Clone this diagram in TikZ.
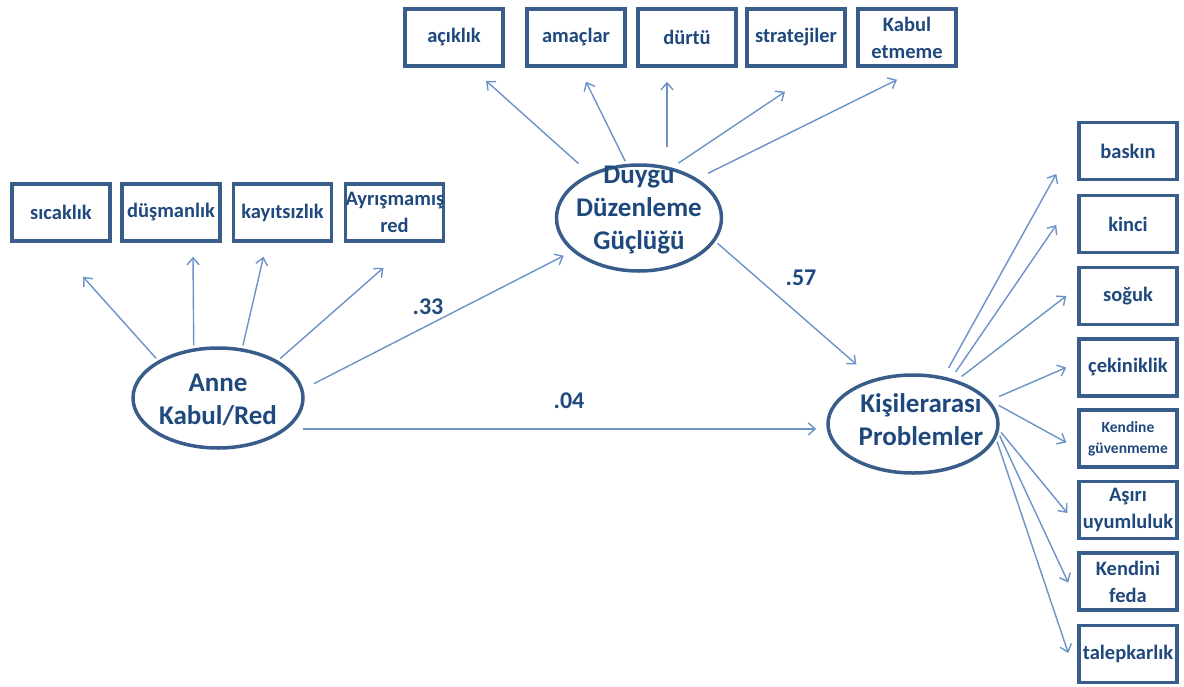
\documentclass[tikz,border=0pt]{standalone}
\usepackage{fontspec}
\setmainfont{Carlito}
\usetikzlibrary{arrows.meta}
\usetikzlibrary{shapes.geometric}

\definecolor{txtblue}{RGB}{31,73,125}
\definecolor{boxblue}{RGB}{56,93,138}
\definecolor{arrblue}{RGB}{108,146,200}

\tikzset{
  obs/.style={draw=boxblue, line width=3.5pt, rectangle, minimum width=98pt,
    minimum height=57pt, text width=98pt, inner sep=0pt, align=center,
    text=txtblue, font=\bfseries\fontsize{20.5}{27}\selectfont},
  latent/.style={draw=boxblue, line width=3.5pt, ellipse, inner sep=0pt},
  lattext/.style={text=txtblue, align=center, font=\bfseries\fontsize{27}{33}\selectfont},
  arr/.style={draw=arrblue, line width=1.4pt, shorten <=3pt,
    -{Straight Barb[length=7pt,width=12pt]}},
  coef/.style={text=txtblue, font=\bfseries\fontsize{24}{28}\selectfont}
}

\begin{document}
\begin{tikzpicture}[x=1pt,y=-1pt]
      \useasboundingbox (0,0) rectangle (1184,686);

      % latent variables
      \node[latent, minimum width=170pt, minimum height=100pt] (anne) at (218,398) {};
      \node[latent, minimum width=165pt, minimum height=106pt] (duy) at (639,218) {};
      \node[latent, minimum width=170pt, minimum height=98pt] (kis) at (913,424) {};
      \node[lattext] (anne-t) at (218,400) {Anne\\Kabul/Red};
      \node[lattext] (duy-t) at (639,210) {Duygu\\Düzenleme\\Güçlüğü};
      \node[lattext] (kis-t) at (921,420) {Kişilerarası\\Problemler};

      % indicators of Anne Kabul/Red
      \node[obs] (sic) at (61,212.5) {sıcaklık};
      \node[obs] (dus) at (171,212.5) {düşmanlık};
      \node[obs] (kay) at (282.5,212.5) {kayıtsızlık};
      \node[obs] (ayr) at (394.5,212.5) {Ayrışmamış\\red};

      % indicators of Duygu Duzenleme
      \node[obs] (aci) at (454,37.5) {açıklık};
      \node[obs] (ama) at (576,37.5) {amaçlar};
      \node[obs] (dur) at (687,37.5) {dürtü};
      \node[obs] (str) at (796,37.5) {stratejiler};
      \node[obs] (kab) at (907,37.5) {Kabul\\etmeme};

      % indicators of Kisilerarasi
      \node[obs] (bas) at (1128,151) {baskın};
      \node[obs] (kin) at (1128,224) {kinci};
      \node[obs] (sog) at (1128,296) {soğuk};
      \node[obs] (cek) at (1128,367.5) {çekiniklik};
      \node[obs, font=\bfseries\fontsize{15.5}{21}\selectfont] (ken) at (1128,438.5) {Kendine\\güvenmeme};
      \node[obs] (asi) at (1128,510) {Aşırı\\uyumluluk};
      \node[obs] (fed) at (1128,581.5) {Kendini\\feda};
      \node[obs] (tal) at (1128,654) {talepkarlık};

      \draw[arr] (anne.148) -- ([xshift=22pt,yshift=-34pt]sic.south);
      \draw[arr] (anne.116) -- ([xshift=22pt,yshift=-14pt]dus.south);
      \draw[arr] (anne.64) -- ([xshift=-19pt,yshift=-14pt]kay.south);
      \draw[arr] (anne.32) -- ([xshift=-11pt,yshift=-25pt]ayr.south);

      \draw[arr, shorten <=15pt] (duy.138) -- ([xshift=32pt,yshift=-13pt]aci.south);
      \draw[arr] (duy.103) -- ([xshift=10pt,yshift=-14pt]ama.south);
      \draw[arr, shorten <=0pt] ([xshift=28pt,yshift=16pt]duy.north) -- ([xshift=-20pt,yshift=-14pt]dur.south);
      \draw[arr, shorten <=8pt] (duy.57) -- ([xshift=-11pt,yshift=-24pt]str.south);
      \draw[arr, shorten <=12pt] (duy.34) -- ([xshift=-10pt,yshift=-12pt]kab.south);

      \draw[arr, shorten <=10pt] (kis.57) -- ([xshift=-21pt,yshift=-23pt]bas.west);
      \draw[arr, shorten <=8pt] (kis.50) -- ([xshift=-21pt,yshift=-1pt]kin.west);
      \draw[arr, shorten <=6pt] (kis.45) -- ([xshift=-11pt]sog.west);
      \draw[arr, shorten <=10pt] (kis.17) -- ([xshift=-11pt]cek.west);
      \draw[arr, shorten <=10pt] (kis.17) -- ([xshift=-11pt,yshift=-4pt]ken.west);
      \draw[arr] (kis.-4) -- ([xshift=-10pt,yshift=-3pt]asi.west);
      \draw[arr] (kis.-6) -- ([xshift=-9pt,yshift=-1pt]fed.west);
      \draw[arr] (kis.-10) -- ([xshift=-9pt,yshift=1pt]tal.west);

      % structural paths
      \draw[arr, shorten <=12pt] (anne.6) -- ([xshift=-9pt,yshift=-4pt]duy.207);
      \draw[arr, shorten <=15pt, shorten >=10pt] (anne.-24) -- (anne.-24 -| kis.west);
      \draw[arr, shorten <=3pt] (duy.-17) -- ([xshift=-15pt,yshift=15pt]kis.133);
      \node[coef] (c33) at (428,307) {.33};
      \node[coef] (c04) at (569,401) {.04};
      \node[coef] (c57) at (801,278) {.57};

\end{tikzpicture}
\end{document}
